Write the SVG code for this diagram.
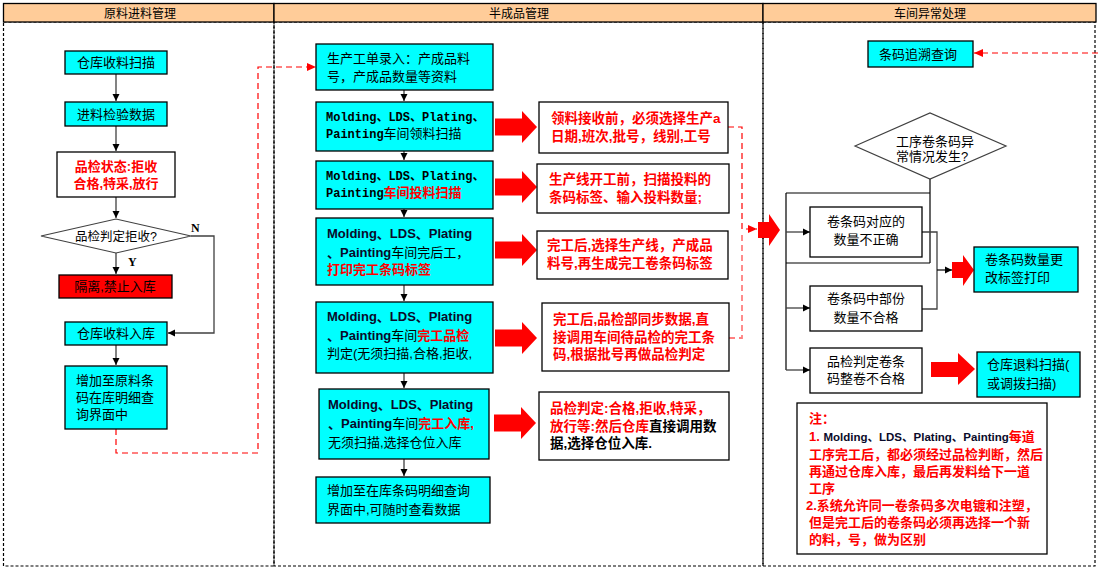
<svg xmlns="http://www.w3.org/2000/svg" width="1098" height="570" viewBox="0 0 1098 570">
<defs>
<style>
text{font-family:"Liberation Sans","Noto Sans CJK SC",sans-serif;font-size:13px;fill:#000}
.hdr{fill:#FFCC99;stroke:#000;stroke-width:1.3}
.lane{fill:none;stroke:#000;stroke-width:1.2;stroke-dasharray:3 2}
.cy{fill:#00FFFF;stroke:#000;stroke-width:1.3}
.wb{fill:#fff;stroke:#000;stroke-width:1.3}
.rb{fill:#FF0000;stroke:#000;stroke-width:1.3}
.dm{fill:#fff;stroke:#404040;stroke-width:1.2}
.ht{font-size:12px}
.mid{text-anchor:middle}
.r{fill:#FF0000;font-weight:bold}
.rt{fill:#FF0000;font-weight:bold;font-size:13.5px}
.nt{fill:#FF0000;font-weight:bold;font-size:13px}
.kb{fill:#000;font-weight:bold}
.nv{fill:#0a0a2a;font-weight:bold}
.mono{font-family:"Liberation Mono","Noto Sans CJK SC",monospace;font-weight:bold;font-size:12px}
.yn{font-family:"Liberation Serif",serif;font-weight:bold;font-size:12px}
.ln{fill:none;stroke:#404040;stroke-width:1.3}
.lk{fill:none;stroke:#000;stroke-width:1.2}
.rd{fill:none;stroke:#FF0000;stroke-width:1.2;stroke-dasharray:6 4}
.pk{fill:none;stroke:#FF8080;stroke-width:1.8;stroke-dasharray:6 4}
.blk{fill:#FF0000}
</style>
<marker id="ah" markerWidth="8" markerHeight="8" refX="7" refY="4" orient="auto" markerUnits="userSpaceOnUse"><path d="M0,0.5 L7,4 L0,7.5 Z" fill="#000"/></marker>
<marker id="ahr" markerWidth="10" markerHeight="10" refX="9" refY="5" orient="auto" markerUnits="userSpaceOnUse"><path d="M0,1 L9,5 L0,9 Z" fill="#FF0000"/></marker>
<path id="ba" d="M0,-8.5 H27 V-16 L42,0 L27,16 V8.5 H0 Z"/>
</defs>

<g id="lanes">
<rect class="lane" x="3.5" y="22" width="270.5" height="544"/>
<rect class="lane" x="274" y="22" width="489" height="544"/>
<rect class="lane" x="763" y="22" width="332" height="544"/>
<rect class="hdr" x="3.5" y="3.5" width="270.5" height="18.5"/>
<rect class="hdr" x="274" y="3.5" width="489" height="18.5"/>
<rect class="hdr" x="763" y="3.5" width="333" height="18.5"/>
<text class="ht mid" x="140" y="17.5">原料进料管理</text>
<text class="ht mid" x="519" y="17.5">半成品管理</text>
<text class="ht mid" x="930" y="17.5">车间异常处理</text>
</g>

<g id="connectors">
<path class="ln" d="M116,74 V101" marker-end="url(#ah)"/>
<path class="ln" d="M116,126 V151" marker-end="url(#ah)"/>
<path class="ln" d="M116,197 V218" marker-end="url(#ah)"/>
<path class="ln" d="M116,253 V274" marker-end="url(#ah)"/>
<path class="ln" d="M191,236 H214 V333 H168" marker-end="url(#ah)"/>
<path class="ln" d="M116,345 V365" marker-end="url(#ah)"/>
<path class="rd" d="M116,429 V453 H258 V67 H316" marker-end="url(#ahr)"/>
<text class="yn" x="191" y="232">N</text>
<text class="yn" x="128" y="266">Y</text>

<path class="ln" d="M404,90 V101" marker-end="url(#ah)"/>
<path class="ln" d="M404,151 V160" marker-end="url(#ah)"/>
<path class="ln" d="M404,209 V217" marker-end="url(#ah)"/>
<path class="ln" d="M404,285 V301" marker-end="url(#ah)"/>
<path class="ln" d="M404,373 V388" marker-end="url(#ah)"/>
<path class="ln" d="M404,459 V476" marker-end="url(#ah)"/>

<use href="#ba" class="blk" x="495" y="127"/>
<use href="#ba" class="blk" x="495" y="187"/>
<use href="#ba" class="blk" x="495" y="250"/>
<use href="#ba" class="blk" x="495" y="338"/>
<use href="#ba" class="blk" x="494" y="423"/>

<path class="pk" d="M729,338 H742 V234"/>
<path class="rd" d="M728,127 H742 V229 H757" marker-end="url(#ahr)"/>
<path class="blk" d="M758,222 H769 V214 L780,230 L769,246 V238 H758 Z"/>

<path class="rd" d="M1098,53 H974" marker-end="url(#ahr)"/>
<path class="lk" d="M930,179 V263 M786,193 H930 M786,263 H930 M786,193 V370"/>
<path class="ln" d="M786,232 H810" marker-end="url(#ah)"/>
<path class="ln" d="M786,308 H810" marker-end="url(#ah)"/>
<path class="ln" d="M786,370 H810" marker-end="url(#ah)"/>
<path class="ln" d="M922,232 H937 V309 H922"/>
<path class="lk" d="M937,270 H952" marker-end="url(#ah)"/>
<path class="blk" d="M952,262 H963 V255 L974,270 L963,286 V278 H952 Z"/>
<path class="blk" d="M931,362 H958 V353 L975,369 L958,385 V377 H931 Z"/>
</g>

<g id="n1">
<rect class="cy" x="65" y="51" width="102" height="23"/>
<text class="mid" x="116" y="67">仓库收料扫描</text>
</g>
<g id="n2">
<rect class="cy" x="65" y="102" width="102" height="24"/>
<text class="mid" x="116" y="118.5">进料检验数据</text>
</g>
<g id="n3">
<rect class="wb" x="57" y="152" width="118" height="45"/>
<text class="r mid" x="116" y="170.5">品检状态:拒收</text>
<text class="r mid" x="116" y="188">合格,特采,放行</text>
</g>
<g id="n4">
<path class="dm" d="M41,236 L116,219 L191,236 L116,253 Z"/>
<text class="mid" x="116" y="240.5" style="font-size:12.5px">品检判定拒收?</text>
</g>
<g id="n5">
<rect class="rb" x="59" y="275" width="113" height="23"/>
<text class="mid" x="115" y="291">隔离,禁止入库</text>
</g>
<g id="n6">
<rect class="cy" x="65" y="322" width="102" height="23"/>
<text class="mid" x="116" y="338">仓库收料入库</text>
</g>
<g id="n7">
<rect class="cy" x="65" y="366" width="102" height="63"/>
<text x="76" y="384.5">增加至原料条</text>
<text x="76" y="401.5">码在库明细查</text>
<text x="76" y="418.5">询界面中</text>
</g>

<g id="m1">
<rect class="cy" x="316" y="44" width="177" height="46"/>
<text x="327" y="62.5">生产工单录入：产成品料</text>
<text x="327" y="80.5">号，产成品数量等资料</text>
</g>
<g id="m2">
<rect class="cy" x="316" y="102" width="177" height="49"/>
<text x="326" y="120.5" class="mono">Molding、LDS、Plating、</text>
<text x="326" y="137.5"><tspan class="mono">Painting</tspan>车间领料扫描</text>
</g>
<g id="m3">
<rect class="cy" x="316" y="161" width="177" height="48"/>
<text x="326" y="179.5" class="mono">Molding、LDS、Plating、</text>
<text x="326" y="196.5"><tspan class="mono">Painting</tspan><tspan class="r">车间投料扫描</tspan></text>
</g>
<g id="m4">
<rect class="cy" x="316" y="218" width="177" height="67"/>
<text x="327" y="238" class="nv">Molding、LDS、Plating</text>
<text x="327" y="257"><tspan class="nv">、Painting</tspan>车间完后工，</text>
<text x="327" y="274" class="r">打印完工条码标签</text>
</g>
<g id="m5">
<rect class="cy" x="316" y="302" width="177" height="71"/>
<text x="327" y="321" class="nv">Molding、LDS、Plating</text>
<text x="327" y="340"><tspan class="nv">、Painting</tspan>车间<tspan class="r">完工品检</tspan></text>
<text x="327" y="358">判定(无须扫描,合格,拒收,</text>
</g>
<g id="m6">
<rect class="cy" x="319" y="389" width="170" height="70"/>
<text x="328" y="409" class="nv">Molding、LDS、Plating</text>
<text x="328" y="428"><tspan class="nv">、Painting</tspan>车间<tspan class="r">完工入库,</tspan></text>
<text x="328" y="447">无须扫描,选择仓位入库</text>
</g>
<g id="m7">
<rect class="cy" x="316" y="477" width="174" height="46"/>
<text x="327" y="494.5">增加至在库条码明细查询</text>
<text x="327" y="513.5">界面中,可随时查看数据</text>
</g>

<g id="t1">
<rect class="wb" x="539" y="102" width="189" height="51"/>
<text x="551" y="122.5" class="rt">领料接收前，必须选择生产a</text>
<text x="551" y="140.5" class="rt">日期,班次,批号，线别,工号</text>
</g>
<g id="t2">
<rect class="wb" x="537" y="164" width="192" height="49"/>
<text x="549" y="183.5" class="rt">生产线开工前，扫描投料的</text>
<text x="549" y="201.5" class="rt">条码标签、输入投料数量;</text>
</g>
<g id="t3">
<rect class="wb" x="537" y="231" width="191" height="48"/>
<text x="547" y="249.5" class="rt">完工后,选择生产线，产成品</text>
<text x="547" y="267.5" class="rt">料号,再生成完工卷条码标签</text>
</g>
<g id="t4">
<rect class="wb" x="542" y="303" width="187" height="68"/>
<text x="553" y="323.5" class="rt">完工后,品检部同步数据,直</text>
<text x="553" y="341.5" class="rt">接调用车间待品检的完工条</text>
<text x="553" y="358.5" class="rt">码,根据批号再做品检判定</text>
</g>
<g id="t5">
<rect class="wb" x="539" y="392" width="190" height="68"/>
<text x="550" y="412.5" class="rt">品检判定:合格,拒收,特采，</text>
<text x="550" y="430.5" class="rt">放行等:然后仓库<tspan class="kb">直接调用数</tspan></text>
<text x="550" y="447.5" class="kb" style="font-size:13.5px">据,选择仓位入库.</text>
</g>

<g id="c1">
<rect class="cy" x="868" y="41" width="105" height="26"/>
<text class="mid" x="918" y="58.5">条码追溯查询</text>
</g>
<g id="c2">
<path class="dm" d="M855,146 L930,113 L1006,146 L930,179 Z"/>
<text x="896" y="145.5">工序卷条码异</text>
<text x="896" y="160.5">常情况发生?</text>
</g>
<g id="c3">
<rect class="wb" x="810" y="207" width="112" height="50"/>
<text class="mid" x="866" y="225.5">卷条码对应的</text>
<text class="mid" x="866" y="243.5">数量不正确</text>
</g>
<g id="c4">
<rect class="wb" x="810" y="286" width="112" height="45"/>
<text class="mid" x="866" y="302.5">卷条码中部份</text>
<text class="mid" x="866" y="321.5">数量不合格</text>
</g>
<g id="c5">
<rect class="wb" x="810" y="348" width="112" height="45"/>
<text class="mid" x="866" y="365.5">品检判定卷条</text>
<text class="mid" x="866" y="382.5">码整卷不合格</text>
</g>
<g id="c6">
<rect class="cy" x="974" y="247" width="104" height="45"/>
<text x="985" y="263.5">卷条码数量更</text>
<text x="985" y="281.5">改标签打印</text>
</g>
<g id="c7">
<rect class="cy" x="977" y="352" width="103" height="45"/>
<text x="987" y="368.5">仓库退料扫描(</text>
<text x="987" y="387.5">或调拨扫描)</text>
</g>
<g id="note">
<rect class="wb" x="797" y="403" width="250" height="151"/>
<text x="809" y="423" class="nt">注：</text>
<text x="809" y="440.5" class="nt">1. <tspan class="nv" style="font-size:11.5px">Molding、LDS、Plating、Painting</tspan>每道</text>
<text x="809" y="458.5" class="nt">工序完工后，都必须经过品检判断，然后</text>
<text x="809" y="475.5" class="nt">再通过仓库入库，最后再发料给下一道</text>
<text x="809" y="492.5" class="nt">工序</text>
<text x="806" y="509.5" class="nt">2.系统允许同一卷条码多次电镀和注塑，</text>
<text x="809" y="526.5" class="nt">但是完工后的卷条码必须再选择一个新</text>
<text x="809" y="543.5" class="nt">的料，号，做为区别</text>
</g>
</svg>
